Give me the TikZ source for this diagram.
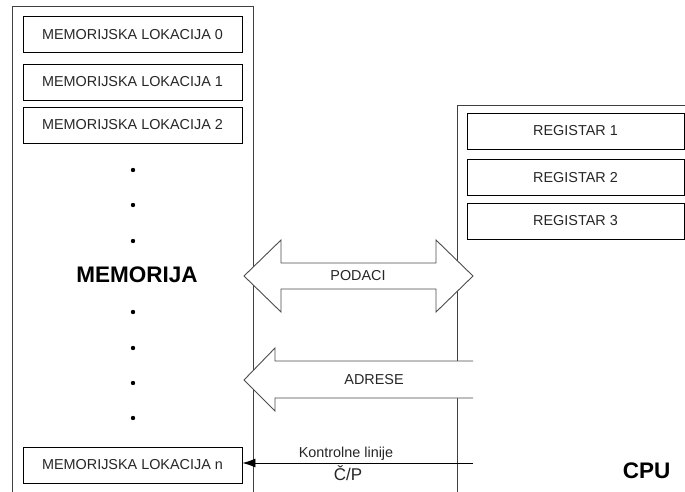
\documentclass[tikz,border=0pt]{standalone}
\usepackage{fontspec}
\setmainfont{Liberation Sans}
\usetikzlibrary{arrows.meta}
\begin{document}
\begin{tikzpicture}[x=1pt,y=-1pt,
  frame/.style={draw=black!75, line width=0.9pt},
  cell/.style={draw=black, line width=0.9pt, minimum width=219pt, minimum height=36pt,
               inner sep=0pt, font=\fontsize{14.4}{16}\selectfont, text=black!85},
  reg/.style={cell, minimum width=217pt, minimum height=36pt},
  bus/.style={draw=black!70, line width=0.9pt, line join=miter},
  busfill/.style={fill=white},
  buslabel/.style={font=\fontsize{14.4}{16}\selectfont, text=black!85, inner sep=0pt},
  dotmark/.style={circle, fill=black, inner sep=0pt, minimum size=4.4pt},
  title/.style={font=\bfseries\fontsize{22.5}{26}\selectfont, inner sep=0pt}]

\useasboundingbox (0,0) rectangle (685,492);
\clip (0,0) rectangle (685,492);

% memory block and CPU block frames
\draw[frame] (12,6) coordinate (memtl) rectangle (253,520) coordinate (membr);
\draw[frame] (457,105) coordinate (cputl) rectangle (720,520) coordinate (cpubr);

% memory locations
\node[cell] (loc0) at (132.5,34.5) {MEMORIJSKA LOKACIJA 0};
\node[cell] (loc1) at (132.5,82)   {MEMORIJSKA LOKACIJA 1};
\node[cell] (loc2) at (132.5,125)  {MEMORIJSKA LOKACIJA 2};
\node[cell] (locn) at (132.5,465)  {MEMORIJSKA LOKACIJA n};

% registers
\node[reg] (reg1) at (575.5,131)   {REGISTAR 1};
\node[reg] (reg2) at (575.5,177.5) {REGISTAR 2};
\node[reg] (reg3) at (575.5,221)   {REGISTAR 3};

% ellipsis dots
\foreach \yy [count=\i] in {170,205,241,312,348,383,418}
  \node[dotmark] (dot\i) at (133,\yy) {};

\node[title] (memtitle) at (137,275) {MEMORIJA};
\node[title] (cputitle) at (646.5,471) {CPU};

% data bus: double-headed block arrow
\path[busfill] (244,276) -- (281,240) -- (281,263) -- (436,263) -- (436,240)
  -- (473,276) -- (436,312) -- (436,289) -- (281,289) -- (281,312) -- cycle;
\draw[bus] (244,276) -- (281,240) -- (281,263) -- (436,263) -- (436,240)
  -- (473,276) -- (436,312) -- (436,289) -- (281,289) -- (281,312) -- cycle;
\node[buslabel] (podaci) at (358,276) {PODACI};

% address bus: single-headed block arrow, open on the CPU side
\path[busfill] (473,361) -- (275,361) -- (275,348) -- (244,380) -- (275,411)
  -- (275,398) -- (473,398) -- cycle;
\draw[bus] (473,361) -- (275,361) -- (275,348) -- (244,380) -- (275,411)
  -- (275,398) -- (473,398);
\node[buslabel] (adrese) at (374,380) {ADRESE};

% control line
\coordinate (ctl) at (473,463);
\draw[line width=0.9pt, -{Latex[length=13pt,width=9pt]}]
  (ctl) -- (ctl -| locn.east);
\node[buslabel, anchor=base] (ctllabel) at (346,457) {Kontrolne linije};
\node[buslabel, anchor=base, font=\fontsize{17}{19}\selectfont] (rw) at (348,480) {Č/P};
\end{tikzpicture}
\end{document}
